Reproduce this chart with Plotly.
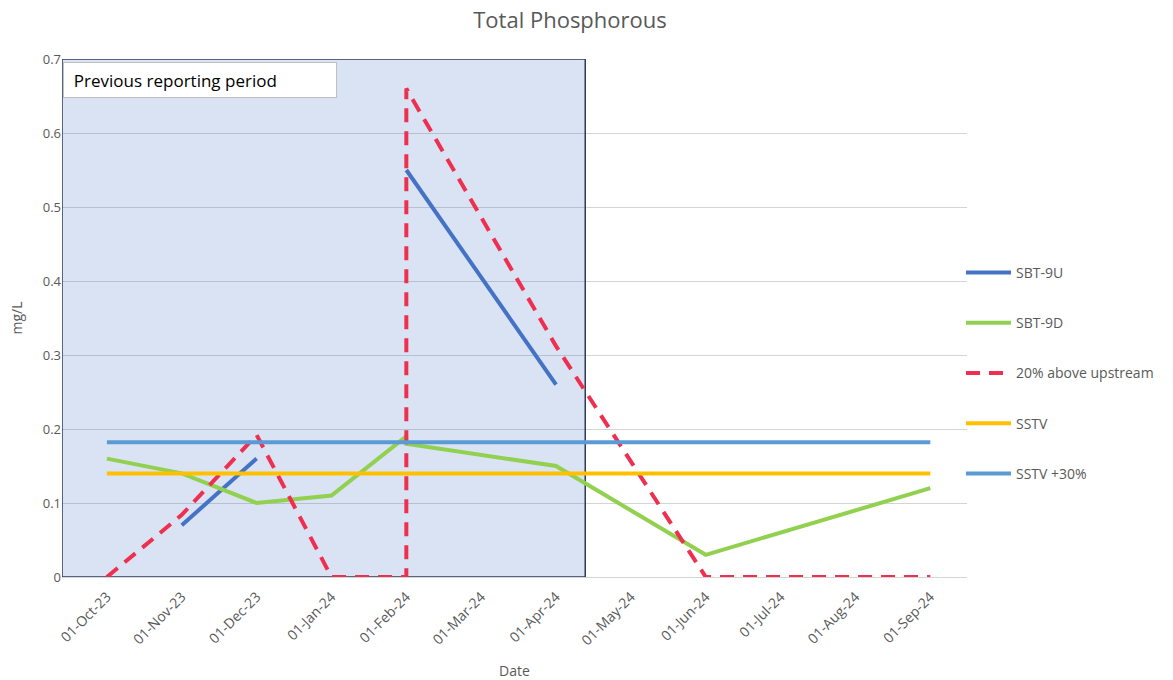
import plotly.graph_objects as go

# Monthly axis labels
month_labels = ["01-Oct-23", "01-Nov-23", "01-Dec-23", "01-Jan-24", "01-Feb-24", "01-Mar-24",
                "01-Apr-24", "01-May-24", "01-Jun-24", "01-Jul-24", "01-Aug-24", "01-Sep-24"]

# Sampling rows (two rows fall in February)
sample_dates = ["2023-10-01", "2023-11-01", "2023-12-01", "2024-01-01", "2024-02-01",
                "2024-02-01", "2024-04-01", "2024-06-01", "2024-09-01"]
sbt_9u = [None, 0.07, 0.16, None, None, 0.55, 0.26, None, None]
sbt_9d = [0.16, 0.14, 0.10, 0.11, 0.19, 0.18, 0.15, 0.03, 0.12]
above_upstream = [0, 0.084, 0.192, 0, 0, 0.66, 0.312, 0, 0]
sstv = [0.14] * len(sample_dates)
sstv_30 = [0.182] * len(sample_dates)

y_ticks = [0, 0.1, 0.2, 0.3, 0.4, 0.5, 0.6, 0.7]


def month_index(d):
    y, m, _ = (int(p) for p in d.split("-"))
    return (y - 2023) * 12 + (m - 10)


x = [month_index(d) for d in sample_dates]

FONT = "Open Sans"
GREY = "#595959"

fig = go.Figure()

series = [
    ("SBT-9U", sbt_9u, "#4472C4", "solid"),
    ("SBT-9D", sbt_9d, "#92D050", "solid"),
    ("20% above upstream", above_upstream, "#EE2F4F", "14px,9px"),
    ("SSTV", sstv, "#FFC000", "solid"),
    ("SSTV +30%", sstv_30, "#5B9BD5", "solid"),
]
for i, (name, vals, color, dash) in enumerate(series):
    fig.add_trace(go.Scatter(
        x=x, y=vals, name=name, mode="lines",
        line=dict(color=color, width=4, dash=dash),
        connectgaps=False, legendgroup=f"g{i}", cliponaxis=True,
    ))

# Shaded previous reporting period; translucent so the gridlines show through
fig.add_shape(type="rect", xref="x", yref="y", x0=-0.6, x1=6.39, y0=0, y1=0.7,
              fillcolor="rgba(68,114,196,0.2)", line=dict(color="#2F3D5C", width=1.5),
              layer="between")

fig.add_annotation(
    xref="x", yref="y", x=-0.6, y=0.7, xanchor="left", yanchor="top",
    xshift=1, yshift=-3,
    text="&nbsp;&nbsp;Previous reporting period", showarrow=False,
    font=dict(family=FONT, size=17, color="#000000"),
    bgcolor="#FFFFFF", bordercolor="#BFBFBF", borderwidth=1,
    width=270, height=32, align="left", borderpad=1,
)

fig.update_layout(
    width=1173, height=680,
    margin=dict(l=62, r=206, t=59, b=103, autoexpand=False),
    paper_bgcolor="#FFFFFF", plot_bgcolor="#FFFFFF",
    font=dict(family=FONT, color=GREY, size=12),
    title=dict(text="Total Phosphorous", x=570 / 1173, xanchor="center", y=0.97, yanchor="middle",
               font=dict(family=FONT, size=22, color=GREY)),
    showlegend=True,
    legend=dict(xref="container", yref="container", x=961 / 1173, xanchor="left",
                y=1 - 257 / 680, yanchor="top", tracegroupgap=29,
                font=dict(family=FONT, size=14, color=GREY), bgcolor="rgba(0,0,0,0)",
                itemwidth=45),
    xaxis=dict(
        range=[-0.6, 11.49], tickmode="array", tickvals=list(range(len(month_labels))),
        ticktext=month_labels, tickangle=-45, showgrid=False, zeroline=False,
        showline=False, ticks="", ticklabelstandoff=8, automargin=False,
        tickfont=dict(family=FONT, size=14, color=GREY),
        title=dict(text="Date", font=dict(family=FONT, size=14, color=GREY), standoff=22),
    ),
    yaxis=dict(
        range=[0, 0.7], tickmode="array", tickvals=y_ticks,
        ticktext=["0" if v == 0 else f"{v:.1f}" for v in y_ticks],
        showgrid=True, gridcolor="#D4D4D4", gridwidth=1, zeroline=True,
        zerolinecolor="#D4D4D4", zerolinewidth=1, showline=False, ticks="", automargin=False,
        tickfont=dict(family=FONT, size=13, color=GREY),
        title=dict(text="mg/L", font=dict(family=FONT, size=14, color=GREY), standoff=16),
    ),
)

fig.write_html("out.html")
